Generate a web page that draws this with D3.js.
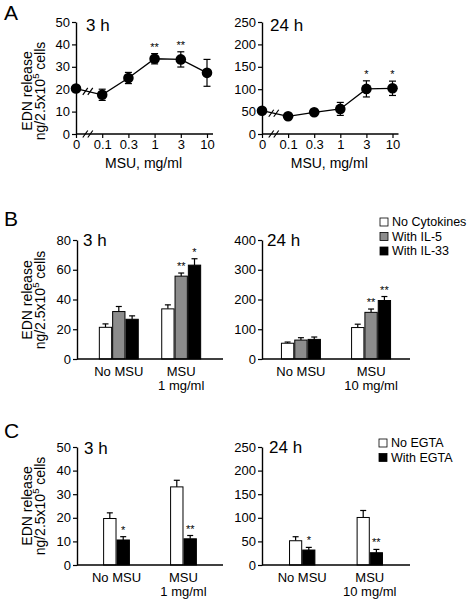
<!DOCTYPE html>
<html><head><meta charset="utf-8">
<script src="https://cdn.jsdelivr.net/npm/d3@7"></script>
<style>body{margin:0;background:#fff}svg{display:block}text{font-family:"Liberation Sans",Arial,Helvetica,sans-serif;fill:#000}</style>
</head><body>
<script>
// ---------- DATA ----------
const doses = ["0","0.1","0.3","1","3","10"];
const a3hMean = [20.3,17.5,25,33.6,33.3,27.3];
const a3hErr  = [0,2.5,2.5,2.3,3.4,6];
const a3hSig  = ["","","","**","**",""];
const a24hMean = [52,39.5,48.5,56,100.7,102];
const a24hErr  = [0,0,0,14.5,18,16];
const a24hSig  = ["","","","","*","*"];
const aTicks3 = [0,10,20,30,40,50];
const aTicks24 = [0,50,100,150,200,250];

const groups3 = ["No MSU","MSU|1 mg/ml"];
const groups24 = ["No MSU","MSU|10 mg/ml"];
const cytoSeries = ["No Cytokines","With IL-5","With IL-33"];
const b3hMean = [[21.3,31.9,26.7],[33.7,55.7,63.1]];
const b3hErr  = [[2.3,3.4,2.3],[2.7,2.1,4.3]];
const b3hSig  = [["","",""],["","**","*"]];
const b24hMean = [[53,63.6,65.9],[105.7,156.8,196.6]];
const b24hErr  = [[4,8,8],[11.3,11.2,13.4]];
const b24hSig  = [["","",""],["","**","**"]];
const bTicks3 = [0,20,40,60,80];
const bTicks24 = [0,100,200,300,400];

const egtaSeries = ["No EGTA","With EGTA"];
const c3hMean = [[19.7,10.6],[33.1,11.1]];
const c3hErr  = [[2.4,1.4],[2.8,1.4]];
const c3hSig  = [["","*"],["","**"]];
const c24hMean = [[51.4,31.7],[100.7,26]];
const c24hErr  = [[8.5,5.6],[14.8,7]];
const c24hSig  = [["","*"],["","**"]];
const cTicks3 = [0,10,20,30,40,50];
const cTicks24 = [0,50,100,150,200,250];

const seriesFill = ["#ffffff","#8c8c8c","#000000"];
const egtaFill = ["#ffffff","#000000"];

// ---------- DRAW ----------
const W = 468, H = 600;
const svg = d3.select("body").append("svg").attr("width", W).attr("height", H);
const FS = 13;

function styleAxis(g){
  g.selectAll("path.domain").attr("stroke","#000").attr("stroke-width",1.4);
  g.selectAll(".tick line").attr("stroke","#000").attr("stroke-width",1.2);
  g.selectAll(".tick text").attr("font-size",FS).attr("fill","#000")
   .style("font-family","'Liberation Sans',Arial,sans-serif");
}

function yAxis(y, x0, ticks){
  const g = svg.append("g").attr("transform",`translate(${x0},0)`)
    .call(d3.axisLeft(y).tickValues(ticks).tickSize(4).tickSizeOuter(0).tickPadding(2));
  styleAxis(g);
  return g;
}

function yLabel(cx, cy){
  const g = svg.append("g").attr("transform",`translate(${cx},${cy}) rotate(-90)`);
  g.append("text").attr("text-anchor","middle").attr("y",0).attr("font-size",14).text("EDN release");
  const t = g.append("text").attr("text-anchor","middle").attr("y",13).attr("font-size",14);
  t.append("tspan").text("ng/2.5x10");
  t.append("tspan").attr("font-size",9.5).attr("dy",-6).text("5");
  t.append("tspan").attr("dy",6).text(" cells");
}

function title(x, y, s, size){
  svg.append("text").attr("x",x).attr("y",y).attr("font-size",size).text(s);
}

function slashes(cx, cy){
  [-2.5, 2.5].forEach(dx=>{
    svg.append("line").attr("x1",cx+dx-2.5).attr("y1",cy+3.5).attr("x2",cx+dx+2.5).attr("y2",cy-3.5)
      .attr("stroke","#000").attr("stroke-width",1.2);
  });
}

function linePanel(cfg){
  const x = d3.scalePoint().domain(doses).range([cfg.x0, cfg.x1]);
  const y = d3.scaleLinear().domain([0, cfg.max]).range([cfg.yb, cfg.yt]);
  yAxis(y, cfg.x0, cfg.ticks);
  const gx = svg.append("g").attr("transform",`translate(0,${cfg.yb})`)
    .call(d3.axisBottom(x).tickSize(4).tickSizeOuter(0).tickPadding(2));
  styleAxis(gx);
  gx.select("path.domain").attr("d",`M${cfg.x0},0H${cfg.x1+6}`);
  const brk = cfg.x0 + (x(doses[1]) - cfg.x0)*0.45;
  slashes(brk, cfg.yb);
  const pts = doses.map((d,i)=>({d, m:cfg.mean[i], e:cfg.err[i], s:cfg.sig[i]}));
  svg.append("path").datum(pts)
    .attr("d", d3.line().x(p=>x(p.d)).y(p=>y(p.m)))
    .attr("fill","none").attr("stroke","#000").attr("stroke-width",1.3);
  const p0 = pts[0], p1 = pts[1];
  const bx = x(p0.d) + (x(p1.d)-x(p0.d))*0.45;
  const by = y(p0.m) + (y(p1.m)-y(p0.m))*0.45;
  slashes(bx, by);
  const eg = svg.append("g");
  pts.filter(p=>p.e>0).forEach(p=>{
    const cx = x(p.d);
    eg.append("line").attr("x1",cx).attr("x2",cx).attr("y1",y(p.m+p.e)).attr("y2",y(p.m-p.e))
      .attr("stroke","#000").attr("stroke-width",1.2);
    [p.m+p.e, p.m-p.e].forEach(v=>eg.append("line").attr("x1",cx-3.5).attr("x2",cx+3.5)
      .attr("y1",y(v)).attr("y2",y(v)).attr("stroke","#000").attr("stroke-width",1.2));
  });
  svg.append("g").selectAll("circle").data(pts).join("circle")
    .attr("cx",p=>x(p.d)).attr("cy",p=>y(p.m)).attr("r",5.3).attr("fill","#000");
  svg.append("g").selectAll("text").data(pts.filter(p=>p.s)).join("text")
    .attr("x",p=>x(p.d)).attr("y",p=>y(p.m+p.e)-3).attr("text-anchor","middle")
    .attr("font-size",11).text(p=>p.s);
  svg.append("text").attr("x",(cfg.x0+cfg.x1)/2+2).attr("y",cfg.yb+34).attr("text-anchor","middle")
    .attr("font-size",14).text("MSU, mg/ml");
}

function barPanel(cfg){
  const x = d3.scaleBand().domain(cfg.groups).range([cfg.x0, cfg.x1])
    .paddingInner(cfg.pi).paddingOuter(cfg.po);
  const xs = d3.scaleBand().domain(cfg.series).range([0, x.bandwidth()]).padding(0);
  const y = d3.scaleLinear().domain([0, cfg.max]).range([cfg.yb, cfg.yt]);
  yAxis(y, cfg.x0, cfg.ticks);
  const rows = [];
  cfg.groups.forEach((g,gi)=>cfg.series.forEach((s,si)=>rows.push({g,s,si,m:cfg.mean[gi][si],e:cfg.err[gi][si],sig:cfg.sig[gi][si]})));
  const bw = xs.bandwidth();
  rows.forEach(r=>{
    const cx = x(r.g)+xs(r.s)+bw/2;
    svg.append("line").attr("x1",cx).attr("x2",cx).attr("y1",y(r.m)).attr("y2",y(r.m+r.e))
      .attr("stroke","#000").attr("stroke-width",1.2);
    svg.append("line").attr("x1",cx-3).attr("x2",cx+3).attr("y1",y(r.m+r.e)).attr("y2",y(r.m+r.e))
      .attr("stroke","#000").attr("stroke-width",1.2);
  });
  svg.append("g").selectAll("rect").data(rows).join("rect")
    .attr("x",r=>x(r.g)+xs(r.s)+0.5).attr("width",bw-1)
    .attr("y",r=>y(r.m)).attr("height",r=>cfg.yb-y(r.m))
    .attr("fill",r=>cfg.fills[r.si]).attr("stroke","#000").attr("stroke-width",1);
  svg.append("g").selectAll("text").data(rows.filter(r=>r.sig)).join("text")
    .attr("x",r=>x(r.g)+xs(r.s)+bw/2).attr("y",r=>y(r.m+r.e)-3).attr("text-anchor","middle")
    .attr("font-size",11).text(r=>r.sig);
  svg.append("line").attr("x1",cfg.x0).attr("x2",cfg.x1).attr("y1",cfg.yb).attr("y2",cfg.yb)
    .attr("stroke","#000").attr("stroke-width",1.4);
  cfg.groups.forEach(g=>{
    const parts = g.split("|");
    const t = svg.append("text").attr("x",x(g)+x.bandwidth()/2).attr("y",cfg.yb+17)
      .attr("text-anchor","middle").attr("font-size",FS);
    parts.forEach((p,i)=>t.append("tspan").attr("x",x(g)+x.bandwidth()/2).attr("dy",i?14:0).text(p));
  });
  if (cfg.legend){
    const lg = svg.append("g");
    cfg.series.forEach((s,i)=>{
      const ly = cfg.legend.y + i*cfg.legend.dy;
      lg.append("rect").attr("x",cfg.legend.x).attr("y",ly-8).attr("width",8).attr("height",8)
        .attr("fill",cfg.fills[i]).attr("stroke","#000").attr("stroke-width",0.8);
      lg.append("text").attr("x",cfg.legend.x+12).attr("y",ly).attr("font-size",12.5).text(s);
    });
  }
}

// Panel A
title(4, 20, "A", 21);
yLabel(32, 91);
linePanel({x0:76,x1:207,yb:134,yt:22,max:50,ticks:aTicks3,mean:a3hMean,err:a3hErr,sig:a3hSig});
title(86, 31, "3 h", 17);
linePanel({x0:262,x1:392.5,yb:134,yt:22,max:250,ticks:aTicks24,mean:a24hMean,err:a24hErr,sig:a24hSig});
title(270, 31, "24 h", 17);

// Panel B
title(4, 226, "B", 21);
yLabel(32, 300);
barPanel({x0:77,x1:223,yb:359,yt:240,max:80,ticks:bTicks3,groups:groups3,series:cytoSeries,
  mean:b3hMean,err:b3hErr,sig:b3hSig,fills:seriesFill,pi:0.36,po:0.35});
title(83, 246, "3 h", 17);
barPanel({x0:262,x1:410,yb:359,yt:240,max:400,ticks:bTicks24,groups:groups24,series:cytoSeries,
  mean:b24hMean,err:b24hErr,sig:b24hSig,fills:seriesFill,pi:0.43,po:0.27,
  legend:{x:380,y:226,dy:14.5}});
title(267, 246, "24 h", 17);

// Panel C
title(4, 438, "C", 21);
yLabel(32, 506);
barPanel({x0:77,x1:223,yb:565,yt:447,max:50,ticks:cTicks3,groups:groups3,series:egtaSeries,
  mean:c3hMean,err:c3hErr,sig:c3hSig,fills:egtaFill,pi:0.6,po:0.39});
title(84, 454, "3 h", 17);
barPanel({x0:262,x1:410,yb:565,yt:447,max:250,ticks:cTicks24,groups:groups24,series:egtaSeries,
  mean:c24hMean,err:c24hErr,sig:c24hSig,fills:egtaFill,pi:0.61,po:0.4,
  legend:{x:379,y:447,dy:14.5}});
title(269, 453, "24 h", 17);
</script>
</body></html>
